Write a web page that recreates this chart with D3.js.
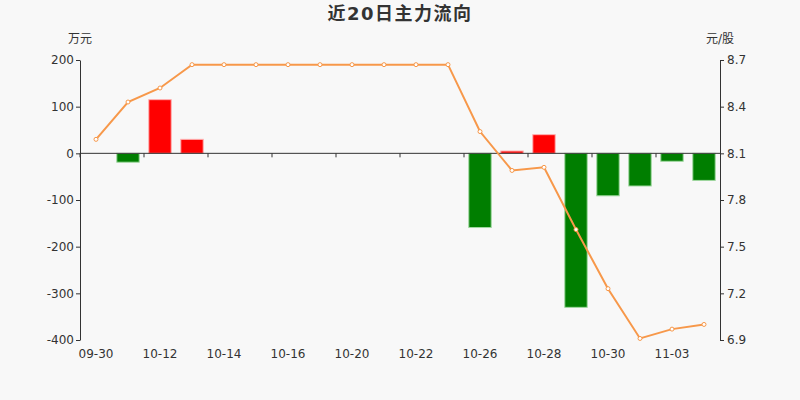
<!DOCTYPE html>
<html>
<head>
<meta charset="utf-8">
<script src="https://cdn.jsdelivr.net/npm/d3@7/dist/d3.min.js"></script>
<style>
  body { margin: 0; background: #f8f8f8; }
  text { font-family: "DejaVu Sans", "Noto Sans CJK SC", sans-serif; }
</style>
</head>
<body>
<script>
// 近20日数据
let dates = ["09-30", "10-09", "10-12", "10-13", "10-14", "10-15", "10-16", "10-19", "10-20", "10-21",
             "10-22", "10-23", "10-26", "10-27", "10-28", "10-29", "10-30", "11-02", "11-03", "11-04"];
let flow = [0, -19, 115, 30, 0, 0, 0, 0, 0, 0, 0, 0, -159, 5, 40, -330, -91, -70, -17, -58];
let price = [8.19, 8.43, 8.52, 8.67, 8.67, 8.67, 8.67, 8.67, 8.67, 8.67,
             8.67, 8.67, 8.24, 7.99, 8.01, 7.61, 7.23, 6.91, 6.97, 7.00];
let leftTicks = [-400, -300, -200, -100, 0, 100, 200];
let rightTicks = [6.9, 7.2, 7.5, 7.8, 8.1, 8.4, 8.7];

let W = 800, H = 400;
let padL = 80, padR = 720, padT = 60, padB = 340;

let svg = d3.select("body").append("svg").attr("width", W).attr("height", H)
    .style("background", "#f8f8f8");

let x = d3.scaleBand().domain(dates).range([padL, padR]);
let yL = d3.scaleLinear().domain([-400, 200]).range([padB, padT]);
let yR = d3.scaleLinear().domain([6.9, 8.7]).range([padB, padT]);

svg.append("text").attr("x", 400).attr("y", 20).attr("text-anchor", "middle")
    .attr("font-size", 18).attr("font-weight", "bold").attr("letter-spacing", 1.5)
    .attr("fill", "#333").text("近20日主力流向");
svg.append("text").attr("x", 80).attr("y", 43).attr("text-anchor", "middle")
    .attr("font-size", 12).attr("fill", "#333").text("万元");
svg.append("text").attr("x", 720).attr("y", 43).attr("text-anchor", "middle")
    .attr("font-size", 12).attr("fill", "#333").text("元/股");

// left axis
let gL = svg.append("g").attr("transform", "translate(" + padL + ",0)")
    .call(d3.axisLeft(yL).tickValues(leftTicks).tickSize(4).tickSizeOuter(0)
        .tickFormat(function(d) { return String(d); }));
gL.select(".domain").attr("stroke", "#333");
gL.selectAll(".tick line").attr("stroke", "#333");
gL.selectAll(".tick text").attr("fill", "#333").attr("font-size", 12).attr("x", -6);

// right axis
let gR = svg.append("g").attr("transform", "translate(" + padR + ",0)")
    .call(d3.axisRight(yR).tickValues(rightTicks).tickSize(4).tickSizeOuter(0)
        .tickFormat(function(d) { return d.toFixed(1); }));
gR.select(".domain").attr("stroke", "#333");
gR.selectAll(".tick line").attr("stroke", "#333");
gR.selectAll(".tick text").attr("fill", "#333").attr("font-size", 12).attr("x", 7);

// bars
svg.selectAll("rect.bar").data(flow).enter().append("rect").attr("class", "bar")
    .attr("x", function(d, i) { return x(dates[i]) + x.bandwidth() * 0.15; })
    .attr("width", x.bandwidth() * 0.7)
    .attr("y", function(d) { return d >= 0 ? yL(d) : yL(0); })
    .attr("height", function(d) { return Math.abs(yL(d) - yL(0)); })
    .attr("fill", function(d) { return d >= 0 ? "#ff0000" : "#007e00"; })
    .attr("stroke", function(d) { return d >= 0 ? "#ffb0b0" : "#9fd89f"; })
    .attr("stroke-width", function(d) { return d === 0 ? 0 : 1; });

// x axis at zero
svg.append("line").attr("x1", padL).attr("x2", padR).attr("y1", yL(0)).attr("y2", yL(0))
    .attr("stroke", "#333");
svg.selectAll("line.xtick").data(dates.filter(function(d, i) { return i % 2 === 0; })).enter()
    .append("line").attr("class", "xtick")
    .attr("x1", function(d) { return x(d); }).attr("x2", function(d) { return x(d); })
    .attr("y1", yL(0)).attr("y2", yL(0) + 4).attr("stroke", "#333");
svg.selectAll("text.xlab").data(dates.filter(function(d, i) { return i % 2 === 0; })).enter()
    .append("text").attr("class", "xlab")
    .attr("x", function(d) { return x(d) + x.bandwidth() / 2; })
    .attr("y", 358).attr("text-anchor", "middle").attr("font-size", 12).attr("fill", "#333")
    .text(function(d) { return d; });

// price line
let line = d3.line().x(function(d, i) { return x(dates[i]) + x.bandwidth() / 2; })
    .y(function(d) { return yR(d); });
svg.append("path").datum(price).attr("d", line).attr("fill", "none")
    .attr("stroke", "#f7984a").attr("stroke-width", 2);
svg.selectAll("circle.pt").data(price).enter().append("circle").attr("class", "pt")
    .attr("cx", function(d, i) { return x(dates[i]) + x.bandwidth() / 2; })
    .attr("cy", function(d) { return yR(d); })
    .attr("r", 2).attr("fill", "#fff").attr("stroke", "#f7984a").attr("stroke-width", 1);
</script>
</body>
</html>
